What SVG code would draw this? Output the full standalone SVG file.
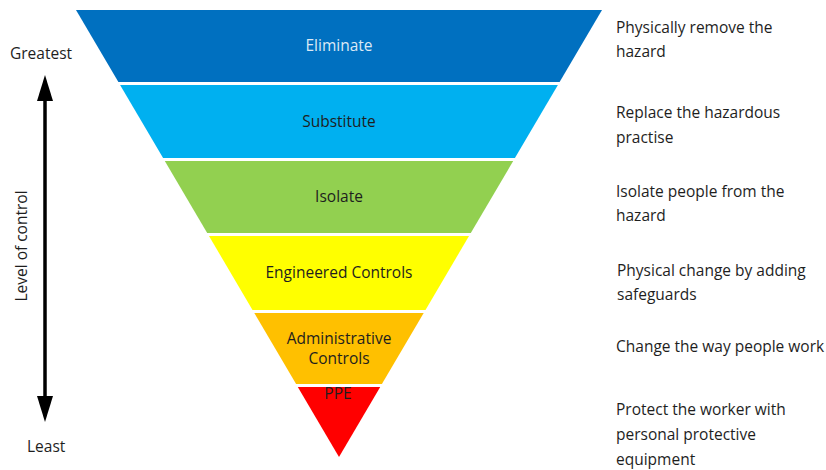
<svg xmlns="http://www.w3.org/2000/svg" width="826" height="470" viewBox="0 0 826 470">
<defs>
<style>
text{font-family:"Open Sans","Liberation Sans",sans-serif;font-size:15.5px;fill:#1e1e1e}
.c{text-anchor:middle}
.light{fill:#DCE9F5}
</style>
<marker id="ah" viewBox="0 0 26 16" refX="0" refY="8" markerWidth="26" markerHeight="16" markerUnits="userSpaceOnUse" orient="auto-start-reverse">
<path d="M0,0 L26,8 L0,16 Z" fill="#000"/>
</marker>
</defs>
<rect width="826" height="470" fill="#fff"/>
<g id="eliminate">
<polygon points="76,10 602,10 559.6,82 118.4,82" fill="#0070C0"/>
<text class="c light" x="339" y="51">Eliminate</text>
</g>
<g id="substitute">
<polygon points="120.1,85 557.9,85 514.9,158 163.1,158" fill="#00B0F0"/>
<text class="c" x="339" y="127">Substitute</text>
</g>
<g id="isolate">
<polygon points="164.8,161 513.2,161 470.8,233 207.2,233" fill="#92D050"/>
<text class="c" x="339" y="202">Isolate</text>
</g>
<g id="engineered">
<polygon points="209,236 469,236 425.5,310 252.5,310" fill="#FFFF00"/>
<text class="c" x="339" y="278">Engineered Controls</text>
</g>
<g id="administrative">
<polygon points="254.3,313 423.7,313 381.9,384 296.1,384" fill="#FFC000"/>
<text class="c" x="339" y="344">Administrative</text>
<text class="c" x="339" y="364">Controls</text>
</g>
<g id="ppe">
<polygon points="297.8,387 380.2,387 339,457" fill="#FF0000"/>
<text class="c" x="338" y="399">PPE</text>
</g>
<g id="connectors">
<line x1="45" y1="101" x2="45" y2="396" stroke="#000" stroke-width="3.5" marker-start="url(#ah)" marker-end="url(#ah)"/>
</g>
<g id="axis-labels">
<text x="10" y="59">Greatest</text>
<text x="27" y="452">Least</text>
<text class="c" transform="translate(27,246) rotate(-90)" x="0" y="0">Level of control</text>
</g>
<g id="descriptions">
<text x="616" y="33">Physically remove the</text>
<text x="616" y="57">hazard</text>
<text x="616" y="118">Replace the hazardous</text>
<text x="616" y="143">practise</text>
<text x="616" y="197">Isolate people from the</text>
<text x="616" y="221">hazard</text>
<text x="617" y="276">Physical change by adding</text>
<text x="617" y="300">safeguards</text>
<text x="616" y="352">Change the way people work</text>
<text x="616" y="415">Protect the worker with</text>
<text x="616" y="440">personal protective</text>
<text x="616" y="465">equipment</text>
</g>
</svg>
